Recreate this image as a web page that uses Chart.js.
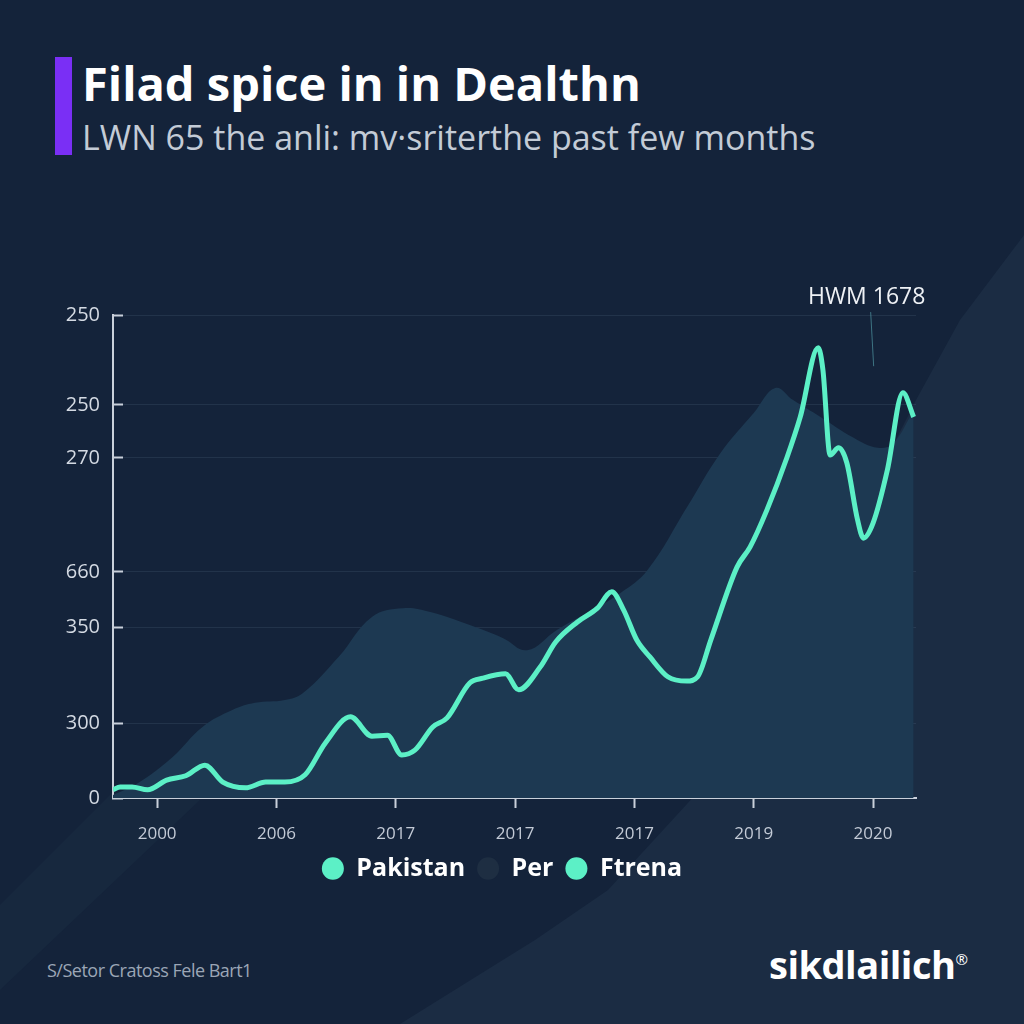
<!DOCTYPE html>
<html>
<head>
<meta charset="utf-8">
<script src="https://cdn.jsdelivr.net/npm/chart.js@4.4.1/dist/chart.umd.min.js"></script>
<style>
html, body { margin: 0; padding: 0; }
body {
    width: 1024px; height: 1024px; overflow: hidden; position: relative;
    background: #14233a;
    font-family: "Open Sans", sans-serif;
}
.bg-right {
    position: absolute; inset: 0; background: #1b2c43;
    clip-path: polygon(1024px 235px, 960px 320px, 916px 400px, 800px 630px, 709px 780px, 608px 890px, 535px 940px, 400px 1024px, 1024px 1024px);
}
.bg-left {
    position: absolute; inset: 0; background: #17283e;
    clip-path: polygon(0 905px, 113px 792px, 200px 800px, 0 990px);
}
.bar { position: absolute; left: 55px; top: 57px; width: 17px; height: 98px; background: #7a2ff5; }
h1 {
    position: absolute; left: 82px; top: 51px; margin: 0;
    font-size: 47px; font-weight: 700; color: #ffffff; white-space: nowrap;
}
.sub {
    position: absolute; left: 82px; top: 114px; margin: 0;
    font-size: 34px; color: #c3cbd6; white-space: nowrap;
}
#wrap { position: absolute; left: 0; top: 280px; width: 1024px; height: 611px; }
.source { position: absolute; left: 47px; top: 958px; font-size: 18px; color: #9ba6b6; letter-spacing: -0.5px; }
.brand { position: absolute; left: 769px; top: 938px; font-size: 38px; font-weight: 700; color: #ffffff; letter-spacing: -0.5px; }
.brand sup { font-size: 15px; font-weight: 400; }
</style>
</head>
<body>
<div class="bg-right"></div>
<div class="bg-left"></div>
<div class="bar"></div>
<h1>Filad spice in in Dealthn</h1>
<div class="sub">LWN 65 the anli: mv·sriterthe past few months</div>
<div id="wrap"><canvas id="chart"></canvas></div>
<div class="source">S/Setor Cratoss Fele Bart1</div>
<div class="brand">sikdlailich<sup>®</sup></div>
<script>
// x in tick units (0 = first labelled tick), y in axis units (0..100)
const xLabels = ["2000", "2006", "2017", "2017", "2017", "2019", "2020"];
const yTickPos = [0, 15.5, 35.4, 46.8, 70.4, 81.4, 100];
const yTickLabels = ["0", "300", "350", "660", "270", "250", "250"];

// Pakistan line
const lineX = [-0.37,-0.31,-0.21,-0.08,0.08,0.24,0.40,0.55,0.74,0.91,1.07,1.24,1.41,1.62,1.80,1.93,2.05,2.16,2.31,2.43,2.62,2.73,2.92,3.03,3.21,3.34,3.52,3.69,3.81,3.91,4.02,4.13,4.28,4.44,4.53,4.64,4.86,4.97,5.11,5.28,5.39,5.54,5.58,5.64,5.71,5.78,5.87,5.92,6.00,6.12,6.25,6.34];
const lineY = [1.7,2.3,2.3,1.7,3.7,4.6,6.8,3.3,2.1,3.3,3.3,4.8,11.4,16.8,12.8,13.0,8.9,9.9,14.7,16.6,23.8,24.8,25.7,22.4,27.1,32.3,36.4,39.3,42.7,38.9,32.7,29.2,25.1,24.2,25.1,32.7,47.8,52.0,59.6,70.6,78.9,93.2,88.6,71.0,72.5,69.4,57.6,53.8,56.9,67.9,83.9,78.9];

// Per shaded area
const areaX = [-0.37,-0.16,0.13,0.38,0.63,0.82,1.07,1.22,1.52,1.80,2.06,2.29,2.62,2.90,3.10,3.35,3.60,3.88,4.11,4.44,4.72,5.00,5.18,5.33,5.56,5.83,6.04,6.17,6.34];
const areaY = [0.6,3.1,8.5,14.7,18.2,19.7,20.3,21.7,29.2,37.5,39.3,38.5,35.8,33.1,30.6,34.8,38.3,42.4,47.2,60.2,71.4,79.7,84.9,82.4,78.9,74.7,72.5,73.5,80.3];

const legendNames = ["Pakistan", "Per", "Ftrena"];
const legendColors = ["#5cf0c6", "#1e2e42", "#5cf0c6"];

const hwmLabel = "HWM 1678";
const hwmX = 5.98;
const hwmLine = [100.6, 89.4];

const teal = "#5cf0c6";
const axisColor = "#c9d0da";

const hwmPlugin = {
    id: "hwm",
    afterDraw(chart) {
        const ctx = chart.ctx;
        const xs = chart.scales.x, ys = chart.scales.y;
        const px = xs.getPixelForValue(hwmX);
        ctx.save();
        ctx.strokeStyle = "rgba(90,170,180,0.6)";
        ctx.lineWidth = 1;
        ctx.beginPath();
        ctx.moveTo(px, ys.getPixelForValue(hwmLine[0]));
        ctx.lineTo(px + 3, ys.getPixelForValue(hwmLine[1]));
        ctx.stroke();
        ctx.fillStyle = "#eef1f5";
        ctx.font = '23px "Open Sans"';
        ctx.textAlign = "center";
        ctx.textBaseline = "middle";
        ctx.fillText(hwmLabel, px - 4, ys.getPixelForValue(hwmLine[0]) - 15);
        ctx.restore();
    }
};

new Chart(document.getElementById("chart"), {
    type: "line",
    data: {
        datasets: [{
            label: legendNames[0],
            data: lineX.map((x, i) => ({ x: x, y: lineY[i] })),
            borderColor: teal,
            borderWidth: 5,
            pointRadius: 0,
            cubicInterpolationMode: "monotone",
            fill: false,
            order: 1
        }, {
            label: legendNames[1],
            data: areaX.map((x, i) => ({ x: x, y: areaY[i] })),
            borderWidth: 0,
            backgroundColor: "#1d3952",
            pointRadius: 0,
            tension: 0.4,
            fill: "origin",
            order: 2
        }]
    },
    options: {
        responsive: true,
        maintainAspectRatio: false,
        animation: false,
        layout: { padding: { top: 35, right: 20, left: 0, bottom: 0 } },
        plugins: {
            tooltip: { enabled: false },
            legend: {
                position: "bottom",
                labels: {
                    usePointStyle: true,
                    pointStyleWidth: 22,
                    boxHeight: 16,
                    padding: 12,
                    color: "#ffffff",
                    font: { family: "Open Sans", size: 25, weight: "bold" },
                    generateLabels: () => legendNames.map((n, i) => ({
                        text: n,
                        fillStyle: legendColors[i],
                        strokeStyle: legendColors[i],
                        lineWidth: 0,
                        pointStyle: "circle",
                        fontColor: "#ffffff",
                        datasetIndex: i
                    }))
                }
            }
        },
        scales: {
            x: {
                type: "linear",
                min: -0.37,
                max: 6.36,
                afterBuildTicks: s => { s.ticks = xLabels.map((l, i) => ({ value: i })); },
                afterFit: s => { s.height = 46; },
                ticks: {
                    callback: v => xLabels[v],
                    color: "#c3cad6",
                    padding: 16,
                    font: { family: "Open Sans", size: 17 }
                },
                grid: { drawOnChartArea: false, color: axisColor, tickLength: 10, tickWidth: 2 },
                border: { color: axisColor, width: 2 }
            },
            y: {
                min: 0,
                max: 100,
                afterBuildTicks: s => { s.ticks = yTickPos.map(v => ({ value: v })); },
                afterFit: s => { s.width = 113; },
                ticks: {
                    callback: (v, i) => yTickLabels[i],
                    color: "#d4dae3",
                    padding: 23,
                    font: { family: "Open Sans", size: 20 }
                },
                grid: { color: "rgba(120,150,180,0.14)", tickColor: axisColor, tickLength: -10, tickWidth: 2 },
                border: { color: axisColor, width: 2 }
            },
            // empty right axis, only reserves the space right of the plot
            yRight: {
                position: "right",
                min: 0,
                max: 100,
                afterFit: s => { s.width = 88; },
                ticks: { display: false },
                grid: { drawOnChartArea: false, drawTicks: false },
                border: { display: false }
            }
        }
    },
    plugins: [hwmPlugin]
});
</script>
</body>
</html>
